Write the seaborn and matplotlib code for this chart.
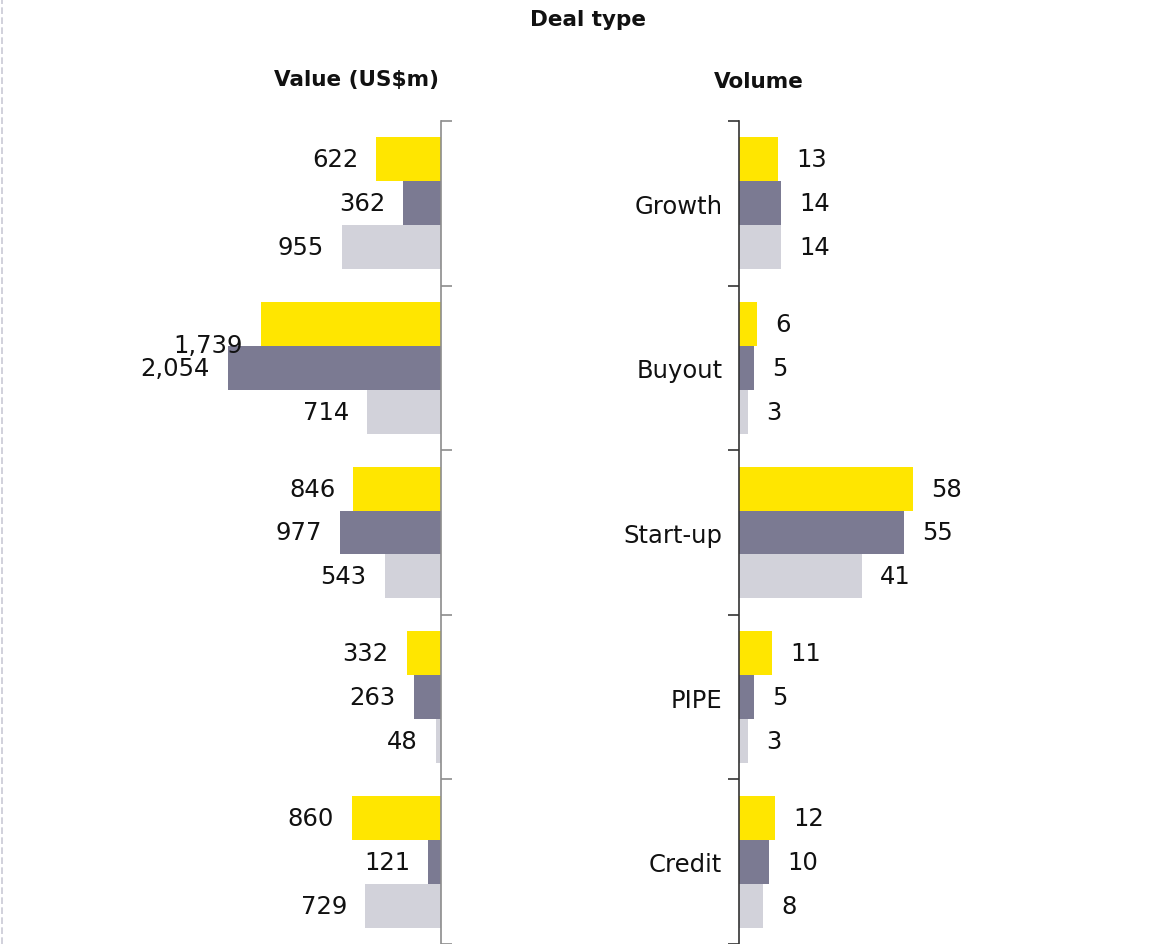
import pandas as pd
import matplotlib.pyplot as plt
import seaborn as sns
from matplotlib.lines import Line2D

# Dữ liệu
categories = ['Growth', 'Buyout', 'Start-up', 'PIPE', 'Credit']
periods = ['Period 1', 'Period 2', 'Period 3']

value_p1 = [622, 1739, 846, 332, 860]
value_p2 = [362, 2054, 977, 263, 121]
value_p3 = [955, 714, 543, 48, 729]

volume_p1 = [13, 6, 58, 11, 12]
volume_p2 = [14, 5, 55, 5, 10]
volume_p3 = [14, 3, 41, 3, 8]

colors = ['#FFE600', '#7B7A92', '#D2D2DA']

sns.set_theme(style='white')
plt.rcParams['font.family'] = ['DejaVu Sans']

df_value = pd.DataFrame({
    'Deal type': categories * 3,
    'Period': [p for p in periods for _ in categories],
    'Value': value_p1 + value_p2 + value_p3,
})
df_volume = pd.DataFrame({
    'Deal type': categories * 3,
    'Period': [p for p in periods for _ in categories],
    'Volume': volume_p1 + volume_p2 + volume_p3,
})

W, H = 1152, 945
fig = plt.figure(figsize=(W / 100, H / 100), dpi=100)
top = 1 - 122 / H

ax1 = fig.add_axes([100 / W, 0, 341 / W, top])
ax2 = fig.add_axes([739 / W, 0, 401 / W, top])

fs = 17.5
txt = '#111111'
bounds = [-0.5, 0.5, 1.5, 2.5, 3.5, 4.5]

# Bảng trái: giá trị
sns.barplot(data=df_value, y='Deal type', x='Value', hue='Period', order=categories,
            hue_order=periods, palette=colors, saturation=1, orient='h', width=0.8,
            linewidth=0, legend=False, ax=ax1)
ax1.set_xlim(3288, 0)
ax1.set_ylim(4.5, -0.5)
for cont, vals in zip(ax1.containers, [value_p1, value_p2, value_p3]):
    anns = ax1.bar_label(cont, labels=[f'{v:,}' for v in vals], padding=13,
                         fontsize=fs, color=txt)
    for a, v in zip(anns, vals):
        if v == 1739:
            a.xyann = (a.xyann[0], a.xyann[1] - 15)

for s in ['top', 'left', 'bottom']:
    ax1.spines[s].set_visible(False)
ax1.spines['right'].set_color('#8c8c8c')
ax1.spines['right'].set_linewidth(1.2)
ax1.set_yticks([])
ax1.set_yticks(bounds, minor=True)
ax1.yaxis.tick_right()
ax1.tick_params(axis='y', which='minor', right=True, left=False, length=8,
                width=1.2, color='#8c8c8c', direction='out', labelright=False)
ax1.set_xticks([])
ax1.set_xlabel('')
ax1.set_ylabel('')

# Bảng phải: số lượng
sns.barplot(data=df_volume, y='Deal type', x='Volume', hue='Period', order=categories,
            hue_order=periods, palette=colors, saturation=1, orient='h', width=0.8,
            linewidth=0, legend=False, ax=ax2)
ax2.set_xlim(0, 133.7)
ax2.set_ylim(4.5, -0.5)
for cont, vals in zip(ax2.containers, [volume_p1, volume_p2, volume_p3]):
    ax2.bar_label(cont, labels=[str(v) for v in vals], padding=13,
                  fontsize=fs, color=txt)

for s in ['top', 'right', 'bottom']:
    ax2.spines[s].set_visible(False)
ax2.spines['left'].set_color('#333333')
ax2.spines['left'].set_linewidth(1.2)
ax2.set_yticks(range(len(categories)))
ax2.set_yticklabels(categories)
ax2.set_yticks(bounds, minor=True)
ax2.tick_params(axis='y', which='major', length=0, pad=12, labelsize=fs,
                labelcolor=txt)
ax2.tick_params(axis='y', which='minor', left=True, length=8, width=1.2,
                color='#333333', direction='out')
ax2.set_xticks([])
ax2.set_xlabel('')
ax2.set_ylabel('')

# Tiêu đề
fig.text(588 / W, 1 - 20 / H, 'Deal type', ha='center', va='center',
         fontsize=15.5, fontweight='bold', color=txt)
fig.text(357 / W, 1 - 80 / H, r'Value (US\$m)', ha='center', va='center',
         fontsize=15.5, fontweight='bold', color=txt)
fig.text(759 / W, 1 - 82 / H, 'Volume', ha='center', va='center',
         fontsize=15.5, fontweight='bold', color=txt)

# Đường nét đứt bên trái
fig.add_artist(Line2D([2 / W, 2 / W], [0, 1], transform=fig.transFigure,
                      linestyle=(0, (4, 2)), color='#c9c9d6', lw=1.2))

fig.savefig('out.png', dpi=100)
